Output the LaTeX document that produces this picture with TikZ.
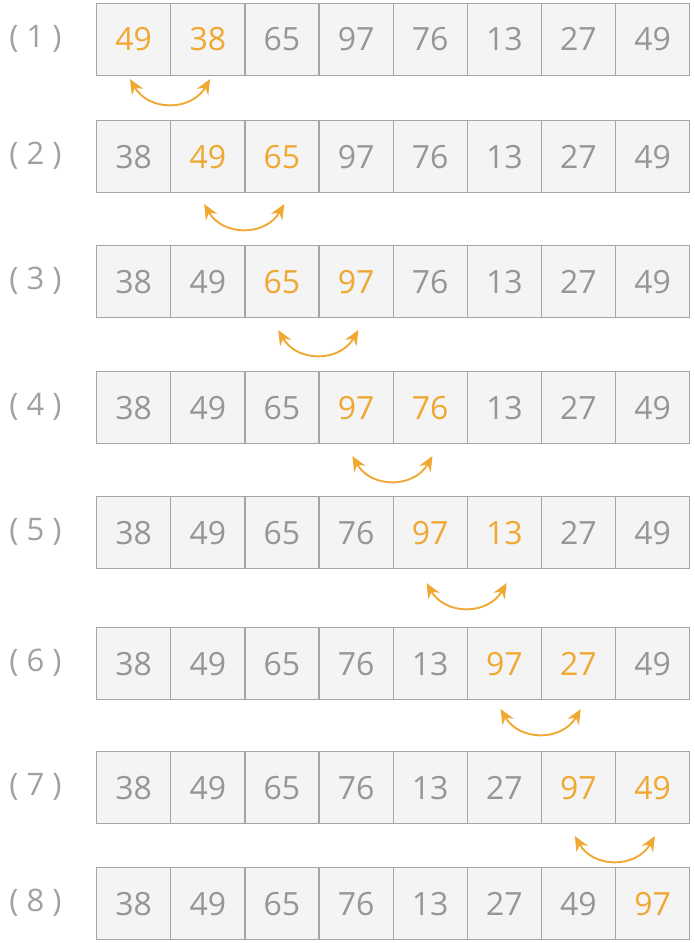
\documentclass[tikz,border=0pt]{standalone}
\usepackage{fontspec}
\setmainfont{Open Sans}
\usetikzlibrary{arrows.meta}
\definecolor{numgray}{RGB}{150,150,150}
\definecolor{labgray}{RGB}{160,160,160}
\definecolor{hiorange}{RGB}{239,168,50}
\definecolor{cellfill}{RGB}{244,244,244}
\definecolor{cellline}{RGB}{165,165,165}
\begin{document}
\begin{tikzpicture}[x=1pt,y=1pt,
  cell/.style={draw=cellline, fill=cellfill, line width=1.3pt,
    minimum width=74.125pt, minimum height=72pt, inner sep=0pt,
    font=\fontsize{32}{32}\selectfont, anchor=north west},
  rowlabel/.style={font=\fontsize{31}{31}\selectfont, text=labgray},
  swaparrow/.style={draw=hiorange, line width=1.9pt,
    {Stealth[length=15pt,width=13pt,inset=5pt]}-{Stealth[length=15pt,width=13pt,inset=5pt]},
    out=-60, in=-120, looseness=1.2}
]
\useasboundingbox (0,0) rectangle (694,-943);
\foreach \r/\tp/\vals/\h/\ay in {
  1/2.5/{49,38,65,97,76,13,27,49}/1/79,
  2/120/{38,49,65,97,76,13,27,49}/2/204,
  3/245/{38,49,65,97,76,13,27,49}/3/330,
  4/371/{38,49,65,97,76,13,27,49}/4/456,
  5/496/{38,49,65,76,97,13,27,49}/5/583,
  6/627/{38,49,65,76,13,97,27,49}/6/709,
  7/751/{38,49,65,76,13,27,97,49}/7/836,
  8/867/{38,49,65,76,13,27,49,97}/8/0}{
  \node[rowlabel] (lab\r) at (35.5,-\tp-36) {(\hspace{8pt}\r\hspace{8pt})};
  \foreach \v [count=\i] in \vals {
    \pgfmathtruncatemacro{\ishot}{(\i==\h)||(\i==\h+1)}
    \ifnum\ishot=1 \def\tc{hiorange}\else\def\tc{numgray}\fi
    \node[cell, text=\tc] (c\r-\i) at ({96+(\i-1)*74.125},-\tp) {\v};
  }
  \ifnum\r<8
    \coordinate (a\r L) at ({96+(\h-1)*74.125+37-3},-\ay);
    \coordinate (a\r R) at ({96+\h*74.125+37+3},-\ay);
    \draw[swaparrow] (a\r L) to (a\r R);
  \fi
}
\end{tikzpicture}
\end{document}
